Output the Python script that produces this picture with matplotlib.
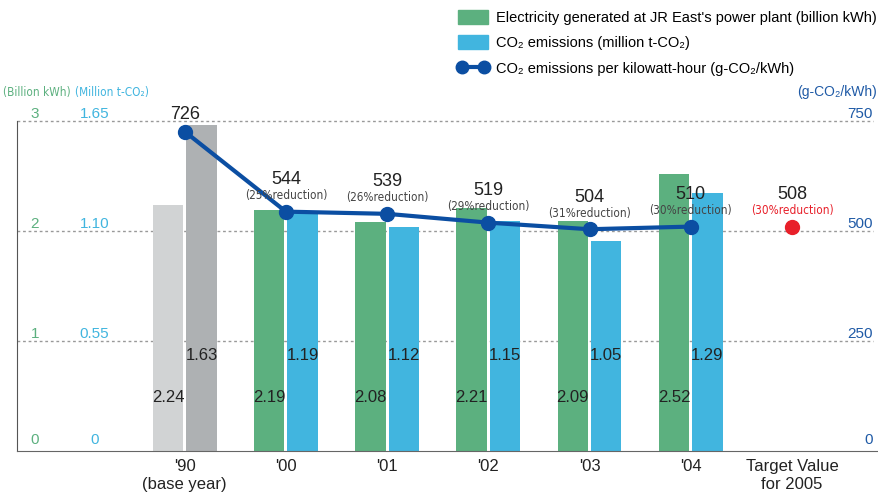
import numpy as np
import matplotlib
matplotlib.use("Agg")
import matplotlib.pyplot as plt
from matplotlib.patches import Patch
from matplotlib.lines import Line2D

plt.rcParams["font.family"] = ["Liberation Sans", "DejaVu Sans"]

years = ["'90\n(base year)", "'00", "'01", "'02", "'03", "'04", "Target Value\nfor 2005"]
electricity = [2.24, 2.19, 2.08, 2.21, 2.09, 2.52]      # billion kWh
co2 = [1.63, 1.19, 1.12, 1.15, 1.05, 1.29]              # million t-CO2
intensity = [726, 544, 539, 519, 504, 510]              # g-CO2/kWh
reductions = ["", "25%", "26%", "29%", "31%", "30%"]
target_intensity = 508
target_reduction = "30%"

GREEN = "#5cb07f"
BLUE = "#41b5df"
LIGHT_GRAY = "#d1d3d4"
DARK_GRAY = "#aeb1b3"
LINE_BLUE = "#0b4ea2"
RED = "#e8202a"
TXT = "#222222"

# left axis: 0-3 billion kWh; other series are mapped onto that scale
co2_scale = 1.65 / 3
int_scale = 750 / 3

fig = plt.figure(figsize=(8.79, 4.97), dpi=100)
ax = fig.add_axes([17 / 879, 46 / 497, 862 / 879, 451 / 497])
ax.set_xlim(-1.657, 6.86)
ax.set_ylim(0, 4.1)

x = np.arange(len(years))
n = len(electricity)
w = 0.3
off = 0.165

elec_colors = [LIGHT_GRAY] + [GREEN] * (n - 1)
co2_colors = [DARK_GRAY] + [BLUE] * (n - 1)
ax.bar(x[:n] - off, electricity, w, color=elec_colors, zorder=2)
ax.bar(x[:n] + off, np.array(co2) / co2_scale, w, color=co2_colors, zorder=2)

for i in range(n):
    ax.text(x[i] - off, 0.49, f"{electricity[i]:.2f}", ha="center", va="center",
            fontsize=12, color=TXT, zorder=4)
    ax.text(x[i] + off, 0.87, f"{co2[i]:.2f}", ha="center", va="center",
            fontsize=12, color=TXT, zorder=4)

# grid lines
for g in [1, 2, 3]:
    ax.plot([-1.657, 6.80], [g, g], color="#999999", lw=1,
            linestyle=(0, (2, 2)), zorder=1)

# intensity line
iy = np.array(intensity) / int_scale
ax.plot(x[:n], iy, color=LINE_BLUE, lw=3, marker="o", ms=10, zorder=5)
ax.plot(x[n], target_intensity / int_scale, "o", color=RED, ms=10, zorder=5)

narrow = dict(family="DejaVu Sans", stretch="condensed")
for i in range(n):
    if reductions[i]:
        ax.annotate(str(intensity[i]), (x[i], iy[i]), textcoords="offset pixels",
                    xytext=(0, 32), ha="center", va="center", fontsize=13, color=TXT, zorder=6)
        ax.annotate(f"({reductions[i]}reduction)", (x[i], iy[i]), textcoords="offset pixels",
                    xytext=(0, 16), ha="center", va="center", fontsize=8.5,
                    color="#444444", zorder=6, **narrow)
    else:
        ax.annotate(str(intensity[i]), (x[i], iy[i]), textcoords="offset pixels",
                    xytext=(0, 17), ha="center", va="center", fontsize=13, color=TXT, zorder=6)
ty = target_intensity / int_scale
ax.annotate(str(target_intensity), (x[n], ty), textcoords="offset pixels",
            xytext=(0, 33), ha="center", va="center", fontsize=13, color=TXT)
ax.annotate(f"({target_reduction}reduction)", (x[n], ty), textcoords="offset pixels",
            xytext=(0, 17), ha="center", va="center", fontsize=8.5, color=RED, **narrow)

# axis value labels
left_vals = ["0", "1", "2", "3"]
co2_vals = ["0", "0.55", "1.10", "1.65"]
right_vals = ["0", "250", "500", "750"]
for k in range(4):
    yy = k + 0.06 if k else 0.1
    ax.text(-1.48, yy, left_vals[k], ha="center", va="center", fontsize=11, color=GREEN)
    ax.text(-0.89, yy, co2_vals[k], ha="center", va="center", fontsize=11, color=BLUE)
    ax.text(6.80, yy, right_vals[k], ha="right", va="center", fontsize=11, color="#1f5aa6")
ax.text(-1.46, 3.26, "(Billion kWh)", ha="center", va="center", fontsize=8.5,
        color=GREEN, **narrow)
ax.text(-0.72, 3.26, "(Million t-CO₂)", ha="center", va="center", fontsize=8.5,
        color=BLUE, **narrow)
ax.text(6.84, 3.26, "(g-CO₂/kWh)", ha="right", va="center", fontsize=10, color="#1f5aa6")

# axes styling
for s in ["top", "right"]:
    ax.spines[s].set_visible(False)
ax.spines["left"].set_bounds(0, 3)
ax.spines["left"].set_color("#555555")
ax.spines["bottom"].set_color("#666666")
ax.set_yticks([])
ax.set_xticks(x)
ax.set_xticklabels(years, fontsize=12, color=TXT, linespacing=1.2)
ax.tick_params(axis="x", length=0, pad=6)

handles = [
    Patch(color=GREEN),
    Patch(color=BLUE),
    Line2D([], [], color=LINE_BLUE, lw=3, marker="o", ms=9),
]
labels = [
    "Electricity generated at JR East's power plant (billion kWh)",
    "CO₂ emissions (million t-CO₂)",
    "CO₂ emissions per kilowatt-hour (g-CO₂/kWh)",
]
fig.legend(handles, labels, loc="upper left", bbox_to_anchor=(452 / 879, 1 - 4 / 497),
           frameon=False, fontsize=10.5, numpoints=2, handlelength=2.1,
           handleheight=1.1, handletextpad=0.55, labelspacing=0.72, borderaxespad=0)

fig.savefig("out.png", dpi=100)
